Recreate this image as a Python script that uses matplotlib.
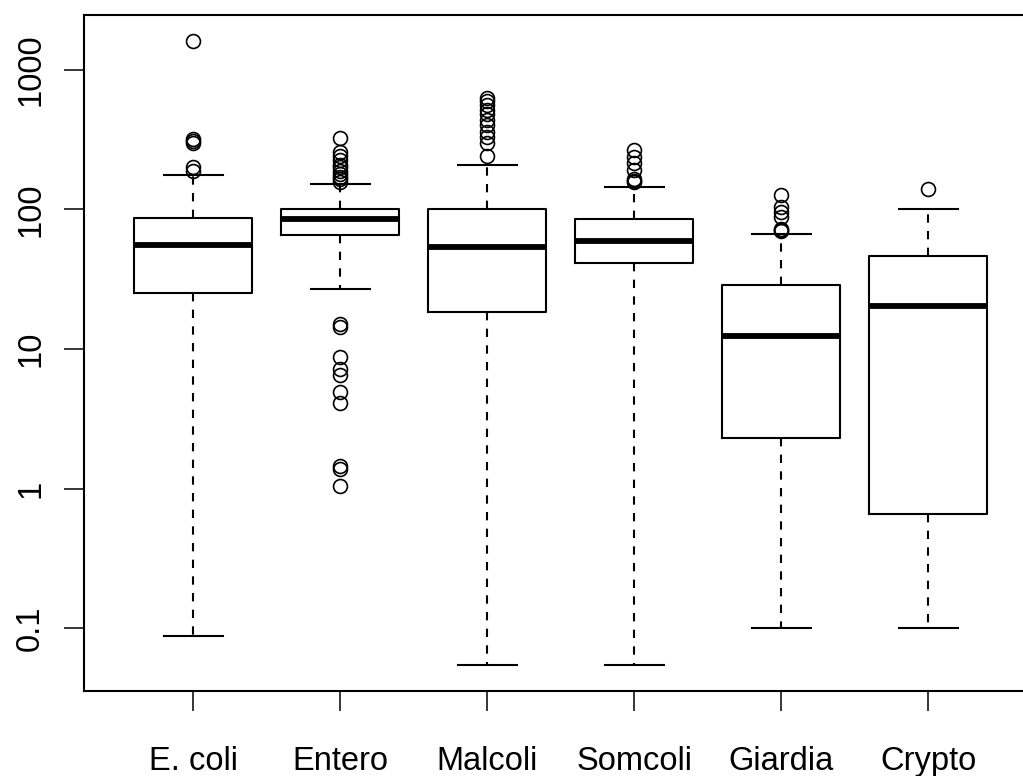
import matplotlib
matplotlib.use("Agg")
import matplotlib.pyplot as plt

# values (log scale)
groups = ["E. coli", "Entero", "Malcoli", "Somcoli", "Giardia", "Crypto"]
q1 = [25, 66, 18.4, 41.3, 2.3, 0.66]
medians = [56, 85, 54, 59.5, 12.4, 20.3]
q3 = [87, 100, 100, 85, 28.8, 46.4]
whislo = [0.087, 27, 0.054, 0.054, 0.1, 0.1]
whishi = [177, 152, 208, 145, 66.5, 100]

ecoli_out = [1600, 320, 310, 300, 200, 188]
entero_out = [324, 260, 240, 225, 210, 200, 190, 180, 172, 165, 158,
              15, 14.3, 8.7, 7.2, 6.5, 4.9, 4.1, 1.45, 1.38, 1.05]
malcoli_out = [630, 600, 560, 520, 480, 440, 400, 360, 330, 300, 240]
somcoli_out = [267, 239, 214, 192, 165, 160, 158]
giardia_out = [127, 105, 96, 89, 73, 71, 70]
crypto_out = [140]
outliers = [ecoli_out, entero_out, malcoli_out, somcoli_out, giardia_out, crypto_out]

yticks = [0.1, 1, 10, 100, 1000]
ytick_labels = ["0.1", "1", "10", "100", "1000"]

plt.rcParams['font.family'] = ['Liberation Sans', 'DejaVu Sans']

stats = []
for i, name in enumerate(groups):
    stats.append({
        'label': name,
        'q1': q1[i], 'med': medians[i], 'q3': q3[i],
        'whislo': whislo[i], 'whishi': whishi[i],
        'fliers': outliers[i],
    })

fig = plt.figure(figsize=(10.23, 7.76), dpi=100)
# axes runs off the right side of the picture, like the reference
ax = fig.add_axes([84.3 / 1023, 85.3 / 776, 952.7 / 1023, 675.7 / 776])

ax.bxp(stats, positions=range(1, 7), widths=0.8, showfliers=True,
       boxprops=dict(color='black', linewidth=1.5),
       medianprops=dict(color='black', linewidth=4.2, solid_capstyle='butt'),
       whiskerprops=dict(color='black', linewidth=1.5, linestyle=(0, (4, 4))),
       capprops=dict(color='black', linewidth=1.5),
       capwidths=0.4,
       flierprops=dict(marker='o', markerfacecolor='none', markeredgecolor='black',
                       markersize=10, markeredgewidth=1.2, linestyle='none'))

ax.set_yscale('log')
ax.set_ylim(10 ** -1.449, 10 ** 3.394)
ax.set_xlim(0.26, 6.74)
ax.set_yticks(yticks)
ax.set_yticklabels(ytick_labels, rotation=90, va='center')
ax.minorticks_off()
ax.set_xticks(range(1, 7))
ax.set_xticklabels(groups)

ax.tick_params(axis='both', length=14.5, width=1.1, labelsize=23.5, color='black')
ax.tick_params(axis='y', pad=13)
ax.tick_params(axis='x', pad=25)
for s in ax.spines.values():
    s.set_linewidth(1.5)

fig.savefig("out.png", dpi=100)
